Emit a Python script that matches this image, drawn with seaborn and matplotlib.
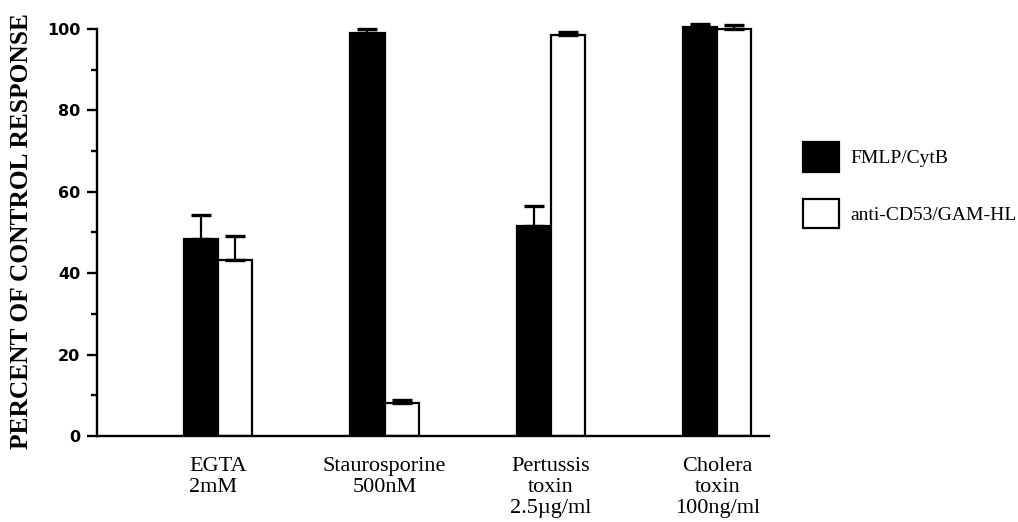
import numpy as np
import pandas as pd
import matplotlib
matplotlib.use("Agg")
import matplotlib.pyplot as plt
import seaborn as sns

# valores
tratamientos = ["EGTA\n2mM", "Staurosporine\n500nM", "Pertussis\ntoxin\n2.5\u00b5g/ml", "Cholera\ntoxin\n100ng/ml"]
series = ["FMLP/CytB", "anti-CD53/GAM-HL"]
fmlp_media = [48.5, 99.0, 51.7, 100.4]
fmlp_err = [5.8, 1.0, 4.8, 0.8]
cd53_media = [43.2, 8.0, 98.6, 100.1]
cd53_err = [6.0, 0.8, 0.7, 0.8]

df = pd.DataFrame({
    "tratamiento": tratamientos * 2,
    "serie": [series[0]] * 4 + [series[1]] * 4,
    "valor": fmlp_media + cd53_media,
})
errores = [fmlp_err, cd53_err]

sns.set_style("ticks", {"axes.edgecolor": "black", "text.color": "black",
                        "xtick.color": "black", "ytick.color": "black",
                        "axes.labelcolor": "black"})
plt.rcParams["font.family"] = ["Liberation Serif", "DejaVu Serif"]

fig = plt.figure(figsize=(10.18, 5.22), dpi=100)
ax = fig.add_axes([0.0953, 0.1648, 0.6600, 0.7952])

sns.barplot(data=df, x="tratamiento", y="valor", hue="serie",
            order=tratamientos, hue_order=series,
            palette=["black", "white"], edgecolor="black", linewidth=1.6,
            width=0.41, errorbar=None, ax=ax)

# barras de error solo hacia arriba
for cont, err in zip(ax.containers, errores):
    xs = [b.get_x() + b.get_width() / 2 for b in cont]
    ys = [b.get_height() for b in cont]
    ax.errorbar(xs, ys, yerr=[np.zeros(len(err)), err], fmt="none",
                ecolor="black", elinewidth=1.6, capsize=7, capthick=2.4,
                clip_on=False, zorder=5)

ax.set_ylim(0, 102)
ax.set_xlim(-0.728, 3.31)
ax.spines["left"].set_bounds(0, 100)
for s in ["top", "right"]:
    ax.spines[s].set_visible(False)
for s in ["left", "bottom"]:
    ax.spines[s].set_linewidth(1.7)

ax.set_yticks([0, 20, 40, 60, 80, 100])
ax.set_yticks([10, 30, 50, 70, 90], minor=True)
ax.tick_params(axis="y", which="major", length=7, width=1.7, direction="out", pad=5)
ax.tick_params(axis="y", which="minor", length=4, width=1.7, direction="out")
for t in ax.get_yticklabels():
    t.set_fontfamily("DejaVu Sans")
    t.set_fontweight("bold")
    t.set_fontsize(11.5)

ax.tick_params(axis="x", length=0, pad=15)
for t in ax.get_xticklabels():
    t.set_fontsize(16)
    t.set_linespacing(1.15)
ax.get_xticklabels()[0].set_multialignment("left")
ax.set_xlabel("")
ax.set_ylabel("PERCENT OF CONTROL RESPONSE", fontsize=18.3, fontweight="bold")
ax.yaxis.set_label_coords(-0.0953, 0.494)

handles, labels = ax.get_legend_handles_labels()
ax.get_legend().remove()
fig.legend(handles, labels, loc="upper left", bbox_to_anchor=(0.772, 0.761),
           frameon=False, fontsize=14, handlelength=1.85, handleheight=1.95,
           handletextpad=0.55, labelspacing=1.4)

fig.savefig("out.png", dpi=100)
